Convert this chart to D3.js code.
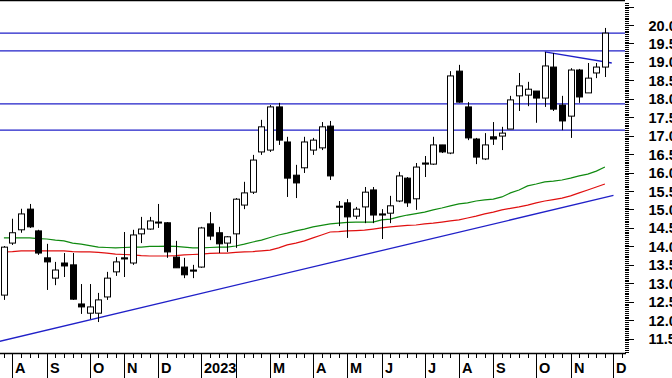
<!DOCTYPE html>
<html>
<head>
<meta charset="utf-8">
<script src="https://cdn.jsdelivr.net/npm/d3@7"></script>
<style>
  body { margin: 0; background: #fff; }
  svg { display: block; font-family: "Liberation Sans", Arial, sans-serif; }
</style>
</head>
<body>
<div id="chart"></div>
<script>
// weekly candles, one per week (index 0 = last week of Jul)
var opens = [12.68,14.09,14.45,15.01,14.42,13.69,13.14,13.55,13.50,12.44,
             12.19,12.19,12.63,13.31,13.69,13.55,14.34,14.47,14.66,14.64,
             13.71,13.44,13.36,13.44,14.61,14.37,14.09,14.34,15.12,15.47,
             16.56,16.61,17.78,16.83,15.93,16.13,16.61,16.67,17.26,15.09,
             15.18,14.82,15.07,15.53,14.88,14.90,15.23,15.85,15.29,16.26,
             16.23,16.75,16.53,18.75,17.78,16.91,16.37,16.97,16.99,17.18,
             18.08,18.10,18.21,18.02,18.86,17.83,17.53,18.78,18.16,18.70,
             18.86];
var highs = [14.01,14.75,15.02,15.15,14.45,14.07,13.58,13.82,13.82,12.98,
             12.98,12.74,13.31,13.71,14.39,14.45,14.80,14.80,15.15,14.66,
             14.15,13.69,13.50,14.53,14.93,14.53,14.28,15.31,15.75,16.48,
             17.43,17.83,17.89,16.97,16.21,16.97,16.94,17.37,17.40,15.23,
             15.28,15.07,15.61,15.61,15.01,15.37,16.02,15.88,16.26,16.45,
             16.97,16.75,18.75,18.92,17.91,16.94,17.07,17.37,17.24,18.08,
             18.70,18.46,18.21,19.27,19.24,18.08,18.83,18.81,18.97,18.97,
             19.92];
var lows = [12.55,14.04,14.37,14.50,13.77,12.82,12.95,13.17,12.55,12.17,
            12.03,11.95,12.55,13.20,13.17,13.50,14.09,14.45,14.50,13.69,
            13.42,13.14,13.14,13.42,14.17,13.82,13.85,13.96,15.01,15.42,
            16.48,16.56,16.75,15.34,15.31,15.99,16.48,16.61,15.80,14.55,
            14.23,14.74,14.63,14.63,14.20,14.63,15.20,15.07,14.99,15.88,
            16.21,16.53,16.50,17.89,16.88,16.23,16.34,16.75,16.61,17.18,
            17.67,17.80,17.35,17.78,17.67,17.15,16.94,17.89,18.16,18.56,
            18.59];
var closes = [13.98,14.37,14.88,14.53,13.82,13.58,13.36,13.47,12.57,12.36,
              12.36,12.55,13.14,13.58,13.66,14.31,14.47,14.69,14.64,13.85,
              13.42,13.23,13.33,14.50,14.28,14.07,14.26,15.28,15.45,16.34,
              17.24,17.78,16.88,15.85,15.72,16.83,16.88,17.24,15.91,15.07,
              14.80,15.01,15.47,14.85,14.85,15.10,15.91,15.18,16.15,16.23,
              16.75,16.56,18.62,17.91,16.94,16.42,16.75,16.91,17.07,17.97,
              18.35,18.26,18.02,18.89,17.72,17.40,18.78,18.05,18.56,18.86,
              19.78];

// moving averages, one value per week
var maGreen = [14.23,14.23,14.23,14.23,14.21,14.20,14.17,14.15,14.09,14.06,
               14.02,13.98,13.97,13.96,13.97,13.98,13.98,14.00,14.00,14.01,
               14.00,13.98,13.96,13.96,13.97,13.98,13.98,14.01,14.06,14.12,
               14.17,14.24,14.31,14.36,14.42,14.47,14.53,14.57,14.61,14.63,
               14.65,14.66,14.66,14.66,14.72,14.74,14.80,14.85,14.89,14.93,
               14.99,15.04,15.10,15.15,15.18,15.23,15.26,15.28,15.34,15.45,
               15.53,15.64,15.69,15.75,15.77,15.80,15.85,15.91,15.96,16.04,
               16.15];
var maRed = [13.85,13.86,13.88,13.88,13.88,13.88,13.88,13.88,13.86,13.85,
             13.85,13.84,13.82,13.79,13.78,13.77,13.75,13.74,13.74,13.74,
             13.75,13.77,13.78,13.79,13.81,13.82,13.82,13.84,13.85,13.86,
             13.88,13.90,13.96,14.04,14.09,14.15,14.23,14.31,14.39,14.40,
             14.42,14.43,14.44,14.47,14.50,14.53,14.55,14.57,14.58,14.61,
             14.63,14.66,14.69,14.72,14.77,14.82,14.88,14.93,14.99,15.03,
             15.07,15.12,15.18,15.23,15.27,15.31,15.37,15.45,15.53,15.61,
             15.69];

// month separators: label and index of the first week of that month
var monthLabels = ["A","S","O","N","D","2023","","M","A","M","J","J","A","S","O","N","D"];
var monthStart  = [1,5,10,14,18,23,27,31,36,40,44,49,53,57,62,66,71];

var levels = [19.78, 19.30, 17.86, 17.15];
var supportLine = [[-1, 11.40], [71, 15.38]];
var resistLine = [[63, 19.27], [70.8, 18.97]];
var yLabels = d3.range(11.5, 20.01, 0.5);

var width = 672, height = 378, plotRight = 625, axisY = 353;

var x = d3.scaleLinear().domain([0, 70]).range([3.9, 604.9]);
var y = d3.scaleLinear().domain([11.5, 20]).range([338.65, 25]);

var svg = d3.select("#chart").append("svg")
    .attr("width", width)
    .attr("height", height);

var plot = svg.append("g");

// top border
svg.append("line")
    .attr("x1", 0).attr("x2", plotRight)
    .attr("y1", 0.5).attr("y2", 0.5)
    .attr("stroke", "#000").attr("stroke-width", 1.5);

// horizontal levels
plot.selectAll("line.level")
  .data(levels)
  .enter().append("line")
    .attr("class", "level")
    .attr("x1", 0).attr("x2", plotRight)
    .attr("y1", function(d) { return y(d); })
    .attr("y2", function(d) { return y(d); })
    .attr("stroke", "#2020c8").attr("stroke-width", 1.3);

var trend = d3.line()
    .x(function(d) { return x(d[0]); })
    .y(function(d) { return y(d[1]); });

plot.append("path").datum(supportLine)
    .attr("d", trend).attr("fill", "none")
    .attr("stroke", "#2020c8").attr("stroke-width", 1.3);
plot.append("path").datum(resistLine)
    .attr("d", trend).attr("fill", "none")
    .attr("stroke", "#2020c8").attr("stroke-width", 1.3);

// moving averages
var maLine = d3.line()
    .x(function(d, i) { return x(i); })
    .y(function(d) { return y(d); });

plot.append("path").datum(maRed)
    .attr("d", maLine).attr("fill", "none")
    .attr("stroke", "#e01010").attr("stroke-width", 1.2);
plot.append("path").datum(maGreen)
    .attr("d", maLine).attr("fill", "none")
    .attr("stroke", "#108a10").attr("stroke-width", 1.2);

// candles
var candles = plot.append("g")
  .selectAll("g")
  .data(opens.map(function(o, i) { return {i: i, o: o, h: highs[i], l: lows[i], c: closes[i]}; }))
  .enter().append("g");

candles.append("line")
    .attr("x1", function(d) { return Math.round(x(d.i)) + 0.5; })
    .attr("x2", function(d) { return Math.round(x(d.i)) + 0.5; })
    .attr("y1", function(d) { return y(d.h); })
    .attr("y2", function(d) { return y(d.l); })
    .attr("stroke", "#000").attr("stroke-width", 1);

candles.append("rect")
    .attr("x", function(d) { return Math.round(x(d.i)) - 2.5; })
    .attr("width", 6)
    .attr("y", function(d) { return y(Math.max(d.o, d.c)); })
    .attr("height", function(d) { return Math.max(1, Math.abs(y(d.o) - y(d.c))); })
    .attr("fill", function(d) { return d.c >= d.o ? "#fff" : "#000"; })
    .attr("stroke", "#000").attr("stroke-width", 1);

// right axis
var ticksG = svg.append("g");
ticksG.selectAll("line")
  .data(d3.range(11.15, 20.62, 0.05))
  .enter().append("line")
    .attr("x1", plotRight)
    .attr("x2", function(d) { return Math.abs(d * 2 - Math.round(d * 2)) < 0.01 ? plotRight + 9 : plotRight + 4; })
    .attr("y1", function(d) { return Math.round(y(d)) + 0.5; })
    .attr("y2", function(d) { return Math.round(y(d)) + 0.5; })
    .attr("stroke", "#000").attr("stroke-width", 1);

svg.append("g").selectAll("text")
  .data(yLabels)
  .enter().append("text")
    .attr("x", 648.5)
    .attr("y", function(d) { return y(d) + 5.5; })
    .attr("font-size", 14.5).attr("font-weight", "bold")
    .attr("fill", "#000")
    .text(function(d) { return d3.format(".1f")(d); });

// bottom axis
svg.append("line")
    .attr("x1", 0).attr("x2", plotRight + 1)
    .attr("y1", axisY + 0.5).attr("y2", axisY + 0.5)
    .attr("stroke", "#000").attr("stroke-width", 1.5);

svg.append("g").selectAll("line")
  .data(d3.range(0, 73))
  .enter().append("line")
    .attr("x1", function(d) { return Math.round(x(d)) + 0.5; })
    .attr("x2", function(d) { return Math.round(x(d)) + 0.5; })
    .attr("y1", axisY)
    .attr("y2", axisY + 5)
    .attr("stroke", "#000").attr("stroke-width", 1);

svg.append("g").selectAll("line")
  .data(monthStart)
  .enter().append("line")
    .attr("x1", function(d) { return Math.round(x(d)) + 0.5; })
    .attr("x2", function(d) { return Math.round(x(d)) + 0.5; })
    .attr("y1", axisY)
    .attr("y2", height)
    .attr("stroke", "#000").attr("stroke-width", 1);

svg.append("g").selectAll("text")
  .data(monthLabels)
  .enter().append("text")
    .attr("x", function(d, i) { return Math.round(x(monthStart[i])) + 3; })
    .attr("y", 373)
    .attr("font-size", 14.5).attr("font-weight", "bold")
    .attr("fill", "#000")
    .text(function(d) { return d; });
</script>
</body>
</html>
